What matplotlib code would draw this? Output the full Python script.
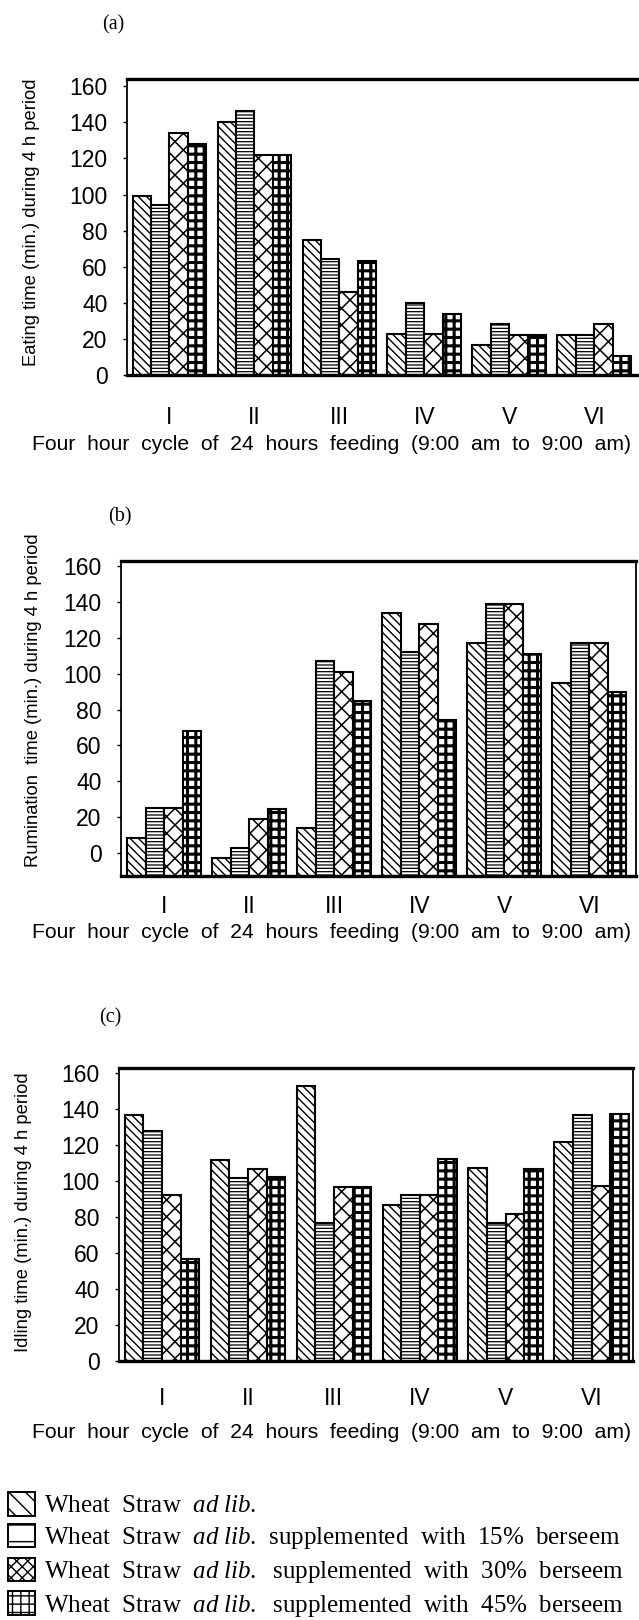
import matplotlib
matplotlib.use("Agg")
import matplotlib.pyplot as plt
import numpy as np
from matplotlib.patches import Patch

plt.rcParams["font.family"] = ["Liberation Sans", "DejaVu Sans"]
plt.rcParams["mathtext.fontset"] = "custom"
plt.rcParams["mathtext.rm"] = "Liberation Serif"
plt.rcParams["mathtext.it"] = "Liberation Serif:italic"

CYCLES = ["I", "II", "III", "IV", "V", "VI"]

# Eating time (min.) per 4 h cycle
EAT_WS = [99, 140, 75, 22.5, 16.5, 22]
EAT_15 = [94, 146, 64, 40, 28, 22]
EAT_30 = [134, 122, 46, 22.5, 22, 28]
EAT_45 = [128, 122, 63, 34, 22, 10.5]

# Rumination time (min.)
RUM_WS = [8, -3, 14, 134, 117, 95]
RUM_15 = [25, 2.5, 107, 112, 139, 117]
RUM_30 = [25, 19, 101, 128, 139, 117]
RUM_45 = [68, 24.5, 84.5, 74, 111, 90]

# Idling time (min.)
IDL_WS = [137, 112, 153, 87, 107.5, 122]
IDL_15 = [128, 102, 77, 92.5, 77, 137]
IDL_30 = [92.5, 107, 97, 92.5, 82, 97.5]
IDL_45 = [57, 102.5, 97, 112.5, 107, 137.5]

YTICKS = [0, 20, 40, 60, 80, 100, 120, 140, 160]
XLABEL = "Four  hour  cycle  of  24  hours  feeding  (9:00  am  to  9:00  am)"
LEGEND_LABELS = [
    r"Wheat  Straw  $\mathit{ad\ lib.}$",
    r"Wheat  Straw  $\mathit{ad\ lib}$.  supplemented  with  15%  berseem",
    r"Wheat  Straw  $\mathit{ad\ lib.}$  supplemented  with  30%  berseem",
    r"Wheat  Straw  $\mathit{ad\ lib.}$  supplemented  with  45%  berseem",
]

BAR_HATCH = ["\\\\\\\\", "-----", "xx", "++"]
BAR_HATCH_LW = [1.0, 0.9, 1.1, 2.2]
LEG_HATCH = ["\\\\", "-", "xxx", "++"]
BAR_W = 0.217

W, H = 639, 1620


def fx(px):
    return px / W


def fy(py):
    return 1 - py / H


PANELS = [
    dict(tag="(a)", tag_xy=(113, 25), box=(127, 641, 79, 375), ylim=(0, 164), xlim=(-0.5, 5.55),
         xpad=22, xlab_y=445, ylab_x=32, ylab_y=222,
         ylabel="Eating time (min.) during 4 h period",
         series=[EAT_WS, EAT_15, EAT_30, EAT_45]),
    dict(tag="(b)", tag_xy=(120, 517), box=(121, 636, 561, 876), ylim=(-13, 163), xlim=(-0.51, 5.55),
         xpad=14, xlab_y=933, ylab_x=34, ylab_y=700,
         ylabel="Rumination  time (min.) during 4 h period",
         series=[RUM_WS, RUM_15, RUM_30, RUM_45]),
    dict(tag="(c)", tag_xy=(110, 1018), box=(119, 633, 1068, 1361), ylim=(0, 163), xlim=(-0.5, 5.48),
         xpad=19, xlab_y=1432, ylab_x=24, ylab_y=1212,
         ylabel="Idling time (min.) during 4 h period",
         series=[IDL_WS, IDL_15, IDL_30, IDL_45]),
]


def draw_panel(fig, p):
    left, right, top, bottom = p["box"]
    ax = fig.add_axes([fx(left), fy(bottom), (right - left) / W, (bottom - top) / H])
    x = np.arange(len(CYCLES))
    base = p["ylim"][0]
    for i, vals in enumerate(p["series"]):
        with plt.rc_context({"hatch.linewidth": BAR_HATCH_LW[i]}):
            bars = ax.bar(x + (i - 1.5) * BAR_W, np.asarray(vals, float) - base, BAR_W, bottom=base,
                          color="white", edgecolor="black", linewidth=1.5, hatch=BAR_HATCH[i])
        for b in bars:
            if hasattr(b, "set_hatch_linewidth"):
                b.set_hatch_linewidth(BAR_HATCH_LW[i])
    ax.set_xlim(*p["xlim"])
    ax.set_ylim(*p["ylim"])
    ax.set_yticks(YTICKS)
    ax.set_xticks(x, CYCLES)
    ax.tick_params(axis="y", labelsize=16.5, length=3, width=1, pad=11)
    ax.tick_params(axis="x", labelsize=16.5, length=0, pad=p["xpad"])
    for side in ("top", "bottom"):
        ax.spines[side].set_linewidth(2.4)
    for side in ("left", "right"):
        ax.spines[side].set_linewidth(1.3)

    fig.text(fx(p["ylab_x"]), fy(p["ylab_y"]), p["ylabel"], rotation=90, ha="center", va="center",
             fontsize=13.2)
    fig.text(fx(332), fy(p["xlab_y"]), XLABEL, ha="center", va="center", fontsize=15.2)
    fig.text(fx(p["tag_xy"][0]), fy(p["tag_xy"][1]), p["tag"], ha="center", va="center",
             fontsize=14.5, family="Liberation Serif")
    return ax


fig = plt.figure(figsize=(W / 100, H / 100), dpi=100)
for p in PANELS:
    draw_panel(fig, p)

handles = [Patch(facecolor="white", edgecolor="black", linewidth=1.4, hatch=h) for h in LEG_HATCH]
fig.legend(handles, LEGEND_LABELS, loc="upper left", bbox_to_anchor=(fx(8), fy(1492)),
           frameon=False, prop={"family": "Liberation Serif", "size": 18.0},
           handlelength=1.07, handleheight=1.07, handletextpad=0.38, labelspacing=0.26,
           borderpad=0, borderaxespad=0)

fig.savefig("out.png", dpi=100, facecolor="white")
